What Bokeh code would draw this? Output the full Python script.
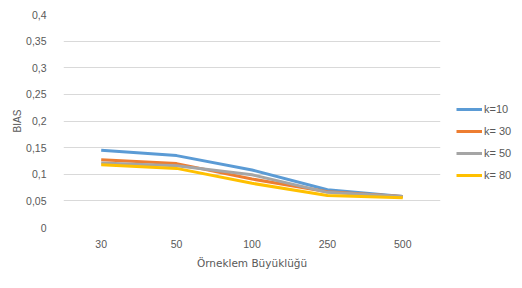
from bokeh.plotting import figure
from bokeh.models import FixedTicker, CustomJSTickFormatter, Legend, LegendItem, ColumnDataSource
from bokeh.embed import file_html
from bokeh.resources import INLINE

categories = ["30", "50", "100", "250", "500"]
k10 = [0.145, 0.135, 0.108, 0.071, 0.058]
k30 = [0.127, 0.120, 0.091, 0.067, 0.058]
k50 = [0.121, 0.116, 0.099, 0.066, 0.058]
k80 = [0.118, 0.111, 0.083, 0.060, 0.056]
series_names = ["k=10", "k= 30", "k= 50", "k= 80"]
colors = ["#5b9bd5", "#ed7d31", "#a5a5a5", "#ffc000"]
y_ticks = [0, 0.05, 0.1, 0.15, 0.2, 0.25, 0.3, 0.35, 0.4]

p = figure(frame_width=377, frame_height=213, x_range=categories, y_range=(0, 0.4),
           output_backend="svg", toolbar_location=None,
           min_border_left=63, min_border_right=0, min_border_top=14, min_border_bottom=45)
p.outline_line_color = None
p.background_fill_color = "white"

items = []
for name, vals, col in zip(series_names, [k10, k30, k50, k80], colors):
    src = ColumnDataSource(dict(x=categories, y=vals))
    r = p.line("x", "y", source=src, line_color=col, line_width=3)
    items.append(LegendItem(label=name, renderers=[r]))

p.yaxis.ticker = FixedTicker(ticks=y_ticks)
p.yaxis.formatter = CustomJSTickFormatter(code="return (Math.round(tick*100)/100).toString().replace('.', ',');")
for ax in (p.xaxis, p.yaxis):
    ax.axis_line_color = None
    ax.major_tick_line_color = None
    ax.minor_tick_line_color = None
    ax.major_label_text_color = "#595959"
    ax.major_label_text_font = "Liberation Sans"
    ax.major_label_text_font_size = "10.5px"
    ax.axis_label_text_color = "#595959"
    ax.axis_label_text_font_style = "normal"
p.yaxis.major_label_standoff = 11
p.xaxis.major_label_standoff = 6
p.yaxis.axis_label = "BIAS"
p.yaxis.axis_label_text_font = "Liberation Sans"
p.yaxis.axis_label_text_font_size = "10px"
p.yaxis.axis_label_standoff = 0
p.xaxis.axis_label = "Örneklem Büyüklüğü"
p.xaxis.axis_label_text_font = "DejaVu Sans"
p.xaxis.axis_label_text_font_size = "10.5px"
p.xaxis.axis_label_standoff = 6

p.xgrid.grid_line_color = None
p.ygrid.grid_line_color = "#d9d9d9"
p.ygrid.grid_line_width = 1

legend = Legend(items=items, location=(16, 41), orientation="vertical")
legend.padding = 0
legend.margin = 0
legend.spacing = 0
legend.glyph_width = 26
legend.glyph_height = 22
legend.label_height = 22
legend.label_standoff = 2
legend.label_text_font = "Liberation Sans"
legend.label_text_font_size = "11px"
legend.label_text_color = "#595959"
legend.border_line_color = None
legend.background_fill_alpha = 0
p.add_layout(legend, "right")

open("out.html", "w").write(file_html(p, INLINE))
